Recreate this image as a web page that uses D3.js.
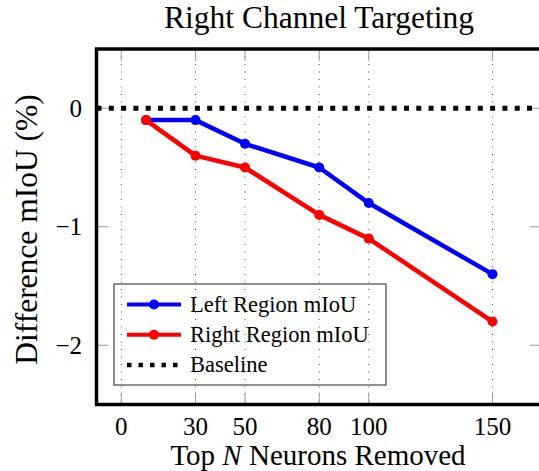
<!DOCTYPE html>
<html lang="en">
	<head>
		<meta charset="utf-8">
		<title>Right Channel Targeting</title>
		<script type="text/javascript" src="https://cdn.jsdelivr.net/npm/d3@7"></script>
		<style type="text/css">
			body{
				margin:0;
				background:white;
			}
			svg text{
				font-family:"Liberation Serif", "Times New Roman", Times, "DejaVu Serif", serif;
				fill:black;
			}
		</style>
	</head>
	<body>
		<script type="text/javascript">

			//Data
			var neurons = [10, 30, 50, 80, 100, 150];
			var leftRegion = [-0.1, -0.1, -0.3, -0.5, -0.8, -1.4];
			var rightRegion = [-0.1, -0.4, -0.5, -0.9, -1.1, -1.8];
			var xTicks = [0, 30, 50, 80, 100, 150];
			var yTicks = [0, -1, -2];
			var seriesNames = ["Left Region mIoU", "Right Region mIoU", "Baseline"];
			var seriesColors = ["#0000ff", "#ff0000", "#000000"];

			var serif = "'Liberation Serif', 'Times New Roman', Times, serif";

			//Width and height
			var w = 539;
			var h = 471;

			var xScale = d3.scaleLinear()
							.domain([-10, 170])
							.range([96.5, 542]);

			var yScale = d3.scaleLinear()
							.domain([-2.5, 0.5])
							.range([404.5, 49]);

			//Create SVG element
			var svg = d3.select("body")
						.append("svg")
						.attr("width", w)
						.attr("height", h)
						.attr("font-family", serif);

			var x0 = xScale.range()[0], x1 = xScale.range()[1];
			var y0 = yScale.range()[1], y1 = yScale.range()[0];

			//Grid
			svg.selectAll("line.grid")
			   .data(xTicks)
			   .enter()
			   .append("line")
			   .attr("class", "grid")
			   .attr("x1", function(d) { return xScale(d); })
			   .attr("x2", function(d) { return xScale(d); })
			   .attr("y1", y0)
			   .attr("y2", y1)
			   .attr("stroke", "#2f5f2f")
			   .attr("stroke-width", 1)
			   .attr("stroke-dasharray", "1,6.5");

			//Ticks (inside, on all four sides)
			var tickLen = 12;
			var tickColor = "#999";
			xTicks.forEach(function(d) {
				svg.append("line")
				   .attr("x1", xScale(d)).attr("x2", xScale(d))
				   .attr("y1", y1).attr("y2", y1 - tickLen)
				   .attr("stroke", tickColor);
				svg.append("line")
				   .attr("x1", xScale(d)).attr("x2", xScale(d))
				   .attr("y1", y0).attr("y2", y0 + tickLen)
				   .attr("stroke", tickColor);
			});
			yTicks.forEach(function(d) {
				svg.append("line")
				   .attr("x1", x0).attr("x2", x0 + tickLen)
				   .attr("y1", yScale(d)).attr("y2", yScale(d))
				   .attr("stroke", tickColor);
				svg.append("line")
				   .attr("x1", x1).attr("x2", x1 - tickLen)
				   .attr("y1", yScale(d)).attr("y2", yScale(d))
				   .attr("stroke", tickColor);
			});

			//Tick labels
			svg.selectAll("text.xtick")
			   .data(xTicks)
			   .enter()
			   .append("text")
			   .attr("class", "xtick")
			   .attr("x", function(d) { return xScale(d); })
			   .attr("y", 435)
			   .attr("text-anchor", "middle")
			   .attr("font-family", serif)
			   .attr("font-size", "25px")
			   .text(function(d) { return d; });

			svg.selectAll("text.ytick")
			   .data(yTicks)
			   .enter()
			   .append("text")
			   .attr("class", "ytick")
			   .attr("x", 82)
			   .attr("y", function(d) { return yScale(d); })
			   .attr("dy", "0.33em")
			   .attr("text-anchor", "end")
			   .attr("font-family", serif)
			   .attr("font-size", "25px")
			   .text(function(d) { return d < 0 ? "\u2212" + Math.abs(d) : d; });

			//Baseline
			svg.append("line")
			   .attr("x1", x0)
			   .attr("x2", x1)
			   .attr("y1", yScale(0))
			   .attr("y2", yScale(0))
			   .attr("stroke", "black")
			   .attr("stroke-width", 5)
			   .attr("stroke-dasharray", "5,7.3");

			//Series lines and markers
			var line = d3.line()
						 .x(function(d) { return xScale(d[0]); })
						 .y(function(d) { return yScale(d[1]); });

			[leftRegion, rightRegion].forEach(function(values, s) {
				var pts = neurons.map(function(n, i) { return [n, values[i]]; });
				svg.append("path")
				   .datum(pts)
				   .attr("d", line)
				   .attr("fill", "none")
				   .attr("stroke", seriesColors[s])
				   .attr("stroke-width", 4.5)
				   .attr("stroke-linejoin", "round");
				svg.selectAll("circle.s" + s)
				   .data(pts)
				   .enter()
				   .append("circle")
				   .attr("class", "s" + s)
				   .attr("cx", function(d) { return xScale(d[0]); })
				   .attr("cy", function(d) { return yScale(d[1]); })
				   .attr("r", 5)
				   .attr("fill", seriesColors[s]);
			});

			//Axis box
			svg.append("rect")
			   .attr("x", x0)
			   .attr("y", y0)
			   .attr("width", x1 - x0)
			   .attr("height", y1 - y0)
			   .attr("fill", "none")
			   .attr("stroke", "black")
			   .attr("stroke-width", 3.5);

			//Legend
			var legend = svg.append("g");
			legend.append("rect")
				  .attr("x", 114)
				  .attr("y", 284)
				  .attr("width", 272)
				  .attr("height", 101)
				  .attr("fill", "none")
				  .attr("stroke", "#444")
				  .attr("stroke-width", 1.2);

			seriesNames.forEach(function(name, i) {
				var ly = 304.5 + i * 30.3;
				var l = legend.append("line")
							  .attr("x1", 127).attr("x2", 181)
							  .attr("y1", ly).attr("y2", ly)
							  .attr("stroke", seriesColors[i])
							  .attr("stroke-width", i < 2 ? 4 : 4.5);
				if (i < 2) {
					legend.append("circle")
						  .attr("cx", 154).attr("cy", ly)
						  .attr("r", 5)
						  .attr("fill", seriesColors[i]);
				} else {
					l.attr("stroke-dasharray", "4.5,7");
				}
				legend.append("text")
					  .attr("x", 190)
					  .attr("y", ly + 7.3)
					  .attr("font-family", serif)
					  .attr("font-size", "22.5px")
					  .text(name);
			});

			//Title and axis labels
			svg.append("text")
			   .attr("x", 319)
			   .attr("y", 27.5)
			   .attr("text-anchor", "middle")
			   .attr("font-family", serif)
			   .attr("font-size", "31.5px")
			   .text("Right Channel Targeting");

			var xl = svg.append("text")
						.attr("x", 318)
						.attr("y", 465)
						.attr("text-anchor", "middle")
						.attr("font-family", serif)
						.attr("font-size", "29px");
			xl.append("tspan").text("Top ");
			xl.append("tspan").attr("font-style", "italic").text("N");
			xl.append("tspan").text(" Neurons Removed");

			svg.append("text")
			   .attr("transform", "translate(37,229.5) rotate(-90)")
			   .attr("text-anchor", "middle")
			   .attr("font-family", serif)
			   .attr("font-size", "31.5px")
			   .text("Difference mIoU (%)");

		</script>
	</body>
</html>
